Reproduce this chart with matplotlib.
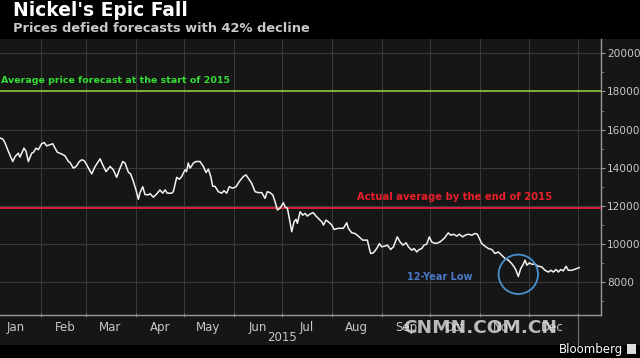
import matplotlib
matplotlib.use("Agg")
import matplotlib.pyplot as plt
import matplotlib.dates as mdates
from matplotlib.patches import Rectangle, Ellipse
from matplotlib.ticker import MultipleLocator, FuncFormatter
import pandas as pd
import numpy as np

# --- data (day of year 2015, LME nickel price USD/t) ---
days = [5.5, 7.2, 8.6, 10.7, 13.4, 14.8, 16.9, 17.9, 20.4, 21.7, 23.1, 25.2, 26.2, 27.9, 29.3,
        31.4, 32.9, 34.5, 36.6, 38.3, 39.7, 41.1, 43.9, 45.9, 48, 49, 51.1, 52.8, 54.8, 56.3,
        57.7, 59.4, 61, 62.5, 64.6, 67.7, 69.3, 71.4, 73.9, 75.9, 78, 79.7, 81.8, 83.2, 85.3,
        86.7, 88.4, 90, 91.5, 92.5, 94.2, 95.6, 97.7, 98.7, 100.8, 102.9, 104.9, 106.6, 108.1,
        109.5, 112.2, 113.2, 115.3, 116.9, 118.4, 120.5, 121.4, 122.5, 123.6, 125.7, 127.3,
        129.8, 131.9, 133.5, 135, 136.5, 137.7, 139.1, 141.2, 143.3, 144.7, 146.4, 148, 150.1,
        152.2, 154.2, 156.7, 158.4, 159.8, 161.9, 164, 166, 168.2, 170.2, 171.6, 173.3, 175,
        176.4, 177.9, 179.5, 181.6, 182.6, 184.1, 185.3, 186.8, 188.2, 189.5, 190.3, 192,
        193.6, 195.1, 196.5, 198.2, 200.2, 201.9, 203.3, 205.5, 206.5, 208.1, 209.6, 211.7,
        213.1, 215.8, 218.9, 221, 222, 224.1, 226.1, 228.2, 230.9, 233.8, 235, 235.9, 237.5,
        239.6, 241.3, 242.7, 244.8, 246.2, 248.3, 250, 252.4, 254.1, 255.9, 257.9, 259.3,
        261.4, 262.8, 264.5, 266.1, 267.6, 269, 270.7, 272.3, 273.8, 275.3, 277.1, 279, 281.5,
        284.1, 285.6, 287.3, 289.4, 291, 293.1, 294.5, 296.6, 298.7, 300.7, 302.2, 303.4,
        304.9, 306.9, 309, 311.1, 313.2, 315.2, 317.3, 319.4, 321.4, 323.5, 325, 326.2, 327.6,
        329.1, 330.4, 331.8, 332.9, 334.5, 336, 338, 340.1, 342.2, 344.2, 346.3, 347.8, 349.4,
        351.1, 352.5, 354, 355.6, 357.3, 358.7, 360.8, 362.3, 363.9, 365.5]
prices = [15560, 15510, 15310, 14860, 14330, 14580, 14770, 14560, 15030, 14860, 14330, 14770,
          14800, 15030, 14950, 15260, 15330, 15150, 15210, 15260, 15030, 14820, 14720, 14630,
          14330, 14280, 13980, 14070, 14330, 14420, 14380, 14160, 13900, 13680, 14070, 14470,
          14160, 13800, 14070, 13900, 13500, 13900, 14330, 14250, 13760, 13680, 13280, 12840,
          12350, 12700, 13010, 12600, 12580, 12650, 12460, 12630, 12840, 12670, 12840, 12670,
          12670, 12750, 13500, 13400, 13540, 13900, 13800, 14250, 13980, 14250, 14330, 14330,
          14070, 13750, 13930, 13540, 13030, 13030, 12750, 12670, 12800, 12670, 13010, 12930,
          13010, 13280, 13540, 13630, 13450, 13190, 12750, 12700, 12700, 12400, 12750, 12700,
          12580, 12230, 11790, 11880, 12170, 11960, 11880, 11350, 10650, 11170, 11300, 11090,
          11700, 11520, 11610, 11470, 11580, 11650, 11470, 11350, 11170, 11000, 11260, 11170,
          11000, 10770, 10830, 10830, 11120, 10830, 10590, 10560, 10420, 10210, 10210, 9770,
          9510, 9540, 9770, 10030, 9860, 9900, 9950, 9720, 9860, 10380, 10120, 9950, 10070,
          9860, 9680, 9770, 9590, 9720, 9770, 9950, 10000, 10380, 10120, 10050, 10050, 10120,
          10300, 10590, 10470, 10520, 10420, 10520, 10380, 10470, 10520, 10470, 10560, 10520,
          10300, 10030, 9890, 9770, 9720, 9510, 9590, 9420, 9250, 9160, 8980, 8810, 8630, 8300,
          8720, 8900, 9160, 8900, 9020, 8950, 8950, 8840, 8810, 8630, 8540, 8630, 8540, 8670,
          8540, 8670, 8600, 8840, 8630, 8630, 8670, 8720, 8770]
forecast_avg = 18000
actual_avg = 11880
low_day, low_price = 327.6, 8300
month_labels = ["Jan", "Feb", "Mar", "Apr", "May", "Jun", "Jul", "Aug", "Sep", "Oct", "Nov", "Dec"]

base = pd.Timestamp("2015-01-01")
dates = [base + pd.Timedelta(days=d) for d in days]
xnum = mdates.date2num(dates)

W, H = 640, 358
fig = plt.figure(figsize=(W / 100, H / 100), dpi=100, facecolor="black")
BG = "#161616"
# dark panel behind chart and tick labels
bgrect = Rectangle((0, 13 / H), 1, (345 - 39) / H, transform=fig.transFigure,
                   facecolor=BG, edgecolor="none", zorder=-10)
fig.patches.append(bgrect)

ax = fig.add_axes([0, (H - 315) / H, 601 / W, (315 - 39) / H])
ax.set_facecolor(BG)
ax.set_zorder(1)

x0 = mdates.date2num(base + pd.Timedelta(days=5.5))
x1 = mdates.date2num(base + pd.Timedelta(days=379))
ax.set_xlim(x0, x1)
ax.set_ylim(6287, 20750)

ax.plot(xnum, prices, color="#f2f2f2", lw=1.1, zorder=5)

ax.axhline(forecast_avg, color="#8fc43a", lw=1.2, zorder=4)
ax.axhline(actual_avg, color="#d8203a", lw=1.4, zorder=4)

# month gridlines
ax.xaxis.set_major_locator(mdates.MonthLocator())
ax.xaxis.set_major_formatter(plt.NullFormatter())
ax.xaxis.set_minor_locator(mdates.MonthLocator(bymonthday=16))
ax.xaxis.set_minor_formatter(FuncFormatter(lambda v, p: month_labels[mdates.num2date(v).month - 1]))
ax.tick_params(axis="x", which="major", length=3, color="#777777", direction="inout")
ax.tick_params(axis="x", which="minor", length=0, labelsize=8.5, labelcolor="#c8c8c8", pad=4)

ax.yaxis.tick_right()
ax.yaxis.set_major_locator(MultipleLocator(2000))
ax.yaxis.set_minor_locator(MultipleLocator(1000))
ax.yaxis.set_major_formatter(FuncFormatter(lambda v, p: f"{int(v)}" if 8000 <= v <= 20000 else ""))
ax.tick_params(axis="y", which="major", length=3, color="#999999", labelsize=7.6,
               labelcolor="#c8c8c8", pad=1.5)
ax.tick_params(axis="y", which="minor", length=2, color="#777777")

ax.grid(True, which="major", color="#3a3a3a", lw=0.8)
for s in ["top", "left"]:
    ax.spines[s].set_visible(False)
for s in ["right", "bottom"]:
    ax.spines[s].set_color("#9a9a9a")
    ax.spines[s].set_linewidth(1.0)

# annotations
ax.text(0.002, forecast_avg + 350, "Average price forecast at the start of 2015",
        color="#33dd33", fontsize=6.8, fontweight="bold", ha="left", va="bottom",
        transform=ax.get_yaxis_transform())
ax.text(mdates.date2num(base + pd.Timedelta(days=288)), actual_avg + 350,
        "Actual average by the end of 2015", color="#e8202a", fontsize=7.2,
        fontweight="bold", ha="center", va="bottom")
ax.text(mdates.date2num(base + pd.Timedelta(days=279)), 8290, "12-Year Low",
        color="#4a78c8", fontsize=7, fontweight="bold", ha="center", va="center")
lx = mdates.date2num(base + pd.Timedelta(days=low_day))
px_per_day = (601) / (x1 - x0)
rdays = 19.7 / px_per_day
rval = 19.7 * (20750 - 6287) / (315 - 39)
ax.add_patch(Ellipse((lx, low_price + 120), 2 * rdays, 2 * rval, facecolor="none",
                     edgecolor="#4a90d0", lw=1.3, zorder=6))

# year label and year-end separator
ax.text(mdates.date2num(pd.Timestamp("2015-07-01")), -0.08, "2015", transform=ax.get_xaxis_transform(),
        color="#c8c8c8", fontsize=8.5, ha="center", va="center")
xe = mdates.date2num(pd.Timestamp("2016-01-01"))
ax.plot([xe, xe], [0, -0.11], transform=ax.get_xaxis_transform(), color="#777777", lw=0.8,
        clip_on=False)

# titles
fig.text(13 / W, 1 - 10 / H, "Nickel's Epic Fall", color="white", fontsize=13.4,
         fontweight="bold", ha="left", va="center")
fig.text(13 / W, 1 - 28 / H, "Prices defied forecasts with 42% decline", color="#c8c8c8",
         fontsize=9.4, fontweight="bold", ha="left", va="center")

# watermark and source
fig.text(480 / W, 1 - 328 / H, "CNMN.COM.CN", color="#d8d8d8", alpha=0.85, fontsize=13.3,
         fontweight="bold", ha="center", va="center", zorder=10)
fig.text(623 / W, 1 - 349 / H, "Bloomberg", color="white", fontsize=8.5, ha="right",
         va="center")
fig.patches.append(Rectangle((627 / W, 4 / H), 9 / W, 10 / H, transform=fig.transFigure,
                             facecolor="#dddddd", edgecolor="none"))

fig.savefig("out.png", dpi=100, facecolor="black")
